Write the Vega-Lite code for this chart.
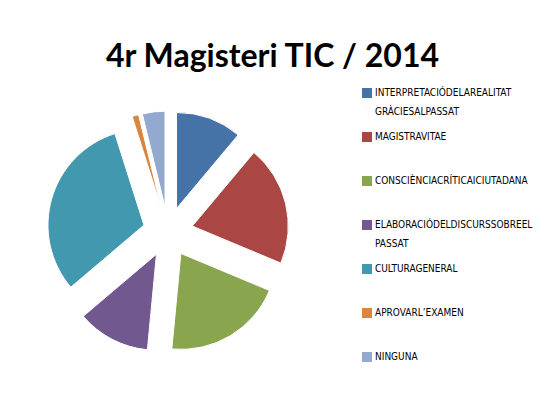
{
  "$schema": "https://vega.github.io/schema/vega-lite/v6.json",
  "width": 316,
  "height": 292,
  "padding": {"left": 10, "top": 41, "right": 0, "bottom": 0},
  "autosize": {"type": "pad"},
  "background": "white",
  "title": {"text": "4r Magisteri TIC / 2014", "font": "Lato", "fontSize": 32, "fontWeight": "bold", "color": "#000000", "anchor": "middle", "frame": "bounds", "offset": 12},
  "data": {"values": [
    {"idx": 1, "cat": "INTERPRETACIÓDELAREALITAT|GRÀCIESALPASSAT", "pct": 11.1},
    {"idx": 2, "cat": "MAGISTRAVITAE", "pct": 20.2},
    {"idx": 3, "cat": "CONSCIÈNCIACRÍTICAICIUTADANA", "pct": 20.2},
    {"idx": 4, "cat": "ELABORACIÓDELDISCURSSOBREEL|PASSAT", "pct": 12.3},
    {"idx": 5, "cat": "CULTURAGENERAL", "pct": 31.3},
    {"idx": 6, "cat": "APROVARL’EXAMEN", "pct": 1.1},
    {"idx": 7, "cat": "NINGUNA", "pct": 3.8}
  ]},
  "mark": {
    "type": "arc",
    "outerRadius": 96,
    "stroke": "white",
    "strokeWidth": 1,
    "xOffset": {"expr": "25*sin((scale('theta', datum.pct_start)+scale('theta', datum.pct_end))/2)"},
    "yOffset": {"expr": "-25*cos((scale('theta', datum.pct_start)+scale('theta', datum.pct_end))/2)"}
  },
  "encoding": {
    "theta": {"field": "pct", "type": "quantitative", "stack": true},
    "order": {"field": "idx", "type": "quantitative"},
    "color": {
      "field": "cat",
      "type": "nominal",
      "scale": {
        "domain": ["INTERPRETACIÓDELAREALITAT|GRÀCIESALPASSAT", "MAGISTRAVITAE", "CONSCIÈNCIACRÍTICAICIUTADANA", "ELABORACIÓDELDISCURSSOBREEL|PASSAT", "CULTURAGENERAL", "APROVARL’EXAMEN", "NINGUNA"],
        "range": ["#4572a7", "#aa4643", "#89a54e", "#71588f", "#4198af", "#db843d", "#93a9cf"]
      },
      "legend": {
        "title": null,
        "orient": "right",
        "offset": 34,
        "padding": 2,
        "symbolType": "square",
        "symbolSize": 100,
        "symbolStrokeWidth": 0,
        "labelFont": "Liberation Sans Narrow, DejaVu Sans Condensed, sans-serif",
        "labelFontSize": 10,
        "labelColor": "#000000",
        "labelLimit": 300,
        "labelOffset": 3,
        "rowPadding": 15,
        "labelExpr": "indexof(datum.label, '|') >= 0 ? split(datum.label, '|') : [datum.label, '']"
      }
    }
  },
  "config": {
    "view": {"stroke": null},
    "style": {"guide-label": {"lineHeight": 19}}
  }
}
